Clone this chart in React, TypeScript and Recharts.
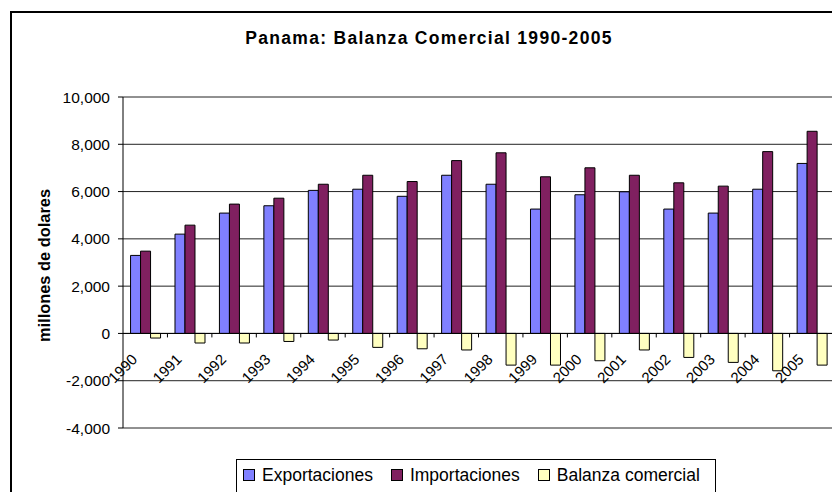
import React from 'react';
import {BarChart, Bar, XAxis, YAxis, CartesianGrid, ReferenceLine, Legend} from 'recharts';

const years = ['1990', '1991', '1992', '1993', '1994', '1995', '1996', '1997', '1998', '1999', '2000', '2001', '2002', '2003', '2004', '2005'];
const exportaciones = [3300, 4200, 5090, 5400, 6050, 6100, 5800, 6690, 6310, 5260, 5865, 5990, 5260, 5090, 6100, 7190];
const importaciones = [3480, 4580, 5470, 5720, 6310, 6690, 6425, 7310, 7640, 6625, 7005, 6690, 6370, 6230, 7690, 8550];
const balanza = [-195, -405, -405, -340, -280, -590, -650, -700, -1340, -1340, -1155, -700, -1015, -1225, -1580, -1340];
const yTicks = [-4000, -2000, 0, 2000, 4000, 6000, 8000, 10000];

const series = [
    {key: 'exp', name: 'Exportaciones', color: '#8080FF'},
    {key: 'imp', name: 'Importaciones', color: '#802060'},
    {key: 'bal', name: 'Balanza comercial', color: '#FFFFC0'},
];

const data = years.map((year, i) => ({
    year,
    exp: exportaciones[i],
    imp: importaciones[i],
    bal: balanza[i],
}));

const FONT = '"Liberation Sans", Arial, sans-serif';
const CHART_W = 840;
const CHART_H = 492;
const PLOT_LEFT = 123;
const PLOT_RIGHT = 834;
const PLOT_TOP = 97;
const PLOT_BOTTOM = 428;
const Y_MIN = -4000;
const Y_MAX = 10000;
const ZERO_Y = PLOT_TOP + ((PLOT_BOTTOM - PLOT_TOP) * Y_MAX) / (Y_MAX - Y_MIN);
const BAND = (PLOT_RIGHT - PLOT_LEFT) / years.length;

const fmt = (v: number) => v.toLocaleString('en-US');

// category labels sit on the zero line, not under the plot
const YearTick = ({x, payload}: any) => {
    const tx = x - 7;
    const ty = ZERO_Y + 27;
    return (
        <g>
            <line x1={x + BAND / 2} x2={x + BAND / 2} y1={ZERO_Y} y2={ZERO_Y + 4} stroke="#000" />
            <text
                x={tx}
                y={ty}
                textAnchor="end"
                transform={`rotate(-45 ${tx} ${ty})`}
                fontSize={15}
                fontFamily={FONT}
                fill="#000"
            >
                {payload.value}
            </text>
        </g>
    );
};

const AxisTitle = ({viewBox}: any) => {
    const x = viewBox.x - 13;
    const y = viewBox.y + viewBox.height / 2 + 3;
    return (
        <text
            x={x}
            y={y}
            textAnchor="middle"
            transform={`rotate(-90 ${x} ${y})`}
            fontSize={16.4}
            fontWeight="bold"
            fontFamily={FONT}
            fill="#000"
        >
            millones de dolares
        </text>
    );
};

const LegendBox = () => (
    <div
        style={{
            border: '1px solid #000',
            height: 40,
            boxSizing: 'border-box',
            display: 'flex',
            alignItems: 'flex-start',
            paddingLeft: 6,
            paddingTop: 5,
            fontFamily: FONT,
            fontSize: 17.5,
            lineHeight: '20px',
            color: '#000',
            background: '#fff',
            whiteSpace: 'nowrap',
        }}
    >
        {series.map((s) => (
            <div key={s.key} style={{display: 'flex', alignItems: 'center', marginRight: 18, flexShrink: 0}}>
                <span
                    style={{
                        display: 'inline-block',
                        width: 12,
                        height: 12,
                        boxSizing: 'border-box',
                        border: '1px solid #000',
                        background: s.color,
                        marginRight: 7,
                    }}
                />
                <span>{s.name}</span>
            </div>
        ))}
    </div>
);

export default function App() {
    return (
        <div
            style={{
                position: 'absolute',
                left: 0,
                top: 0,
                width: 832,
                height: 492,
                overflow: 'hidden',
                background: '#fff',
                fontFamily: FONT,
            }}
        >
            <div
                style={{
                    position: 'absolute',
                    left: 10,
                    top: 11,
                    width: 850,
                    height: 520,
                    border: '2px solid #000',
                }}
            />
            <div
                style={{
                    position: 'absolute',
                    left: 0,
                    top: 30,
                    width: 858,
                    textAlign: 'center',
                    fontSize: 17.5,
                    lineHeight: 1,
                    fontWeight: 'bold',
                    letterSpacing: 1.3,
                    color: '#000',
                }}
            >
                Panama: Balanza Comercial 1990-2005
            </div>
            <div style={{position: 'absolute', left: 0, top: 0}}>
                <BarChart
                    width={CHART_W}
                    height={CHART_H}
                    data={data}
                    margin={{top: PLOT_TOP, right: CHART_W - PLOT_RIGHT, left: PLOT_LEFT - 60, bottom: CHART_H - PLOT_BOTTOM - 30}}
                    barCategoryGap="17%"
                    barGap={0}
                >
                    <CartesianGrid vertical={false} stroke="#222" />
                    <XAxis
                        dataKey="year"
                        height={30}
                        axisLine={false}
                        tickLine={false}
                        interval={0}
                        tick={<YearTick />}
                    />
                    <YAxis
                        width={60}
                        domain={[Y_MIN, Y_MAX]}
                        ticks={yTicks}
                        tickFormatter={fmt}
                        tickSize={5}
                        tickMargin={8}
                        axisLine={{stroke: '#000'}}
                        tickLine={{stroke: '#000'}}
                        tick={{fill: '#000', fontSize: 15.5, fontFamily: FONT}}
                        label={<AxisTitle />}
                    />
                    <Legend
                        verticalAlign="middle"
                        align="center"
                        layout="horizontal"
                        wrapperStyle={{left: 236, top: 459, width: 480, height: 40}}
                        content={<LegendBox />}
                    />
                    {series.map((s) => (
                        <Bar
                            key={s.key}
                            dataKey={s.key}
                            name={s.name}
                            fill={s.color}
                            stroke="#000"
                            strokeWidth={1}
                            isAnimationActive={false}
                        />
                    ))}
                    <ReferenceLine y={0} stroke="#000" />
                </BarChart>
            </div>
        </div>
    );
}
